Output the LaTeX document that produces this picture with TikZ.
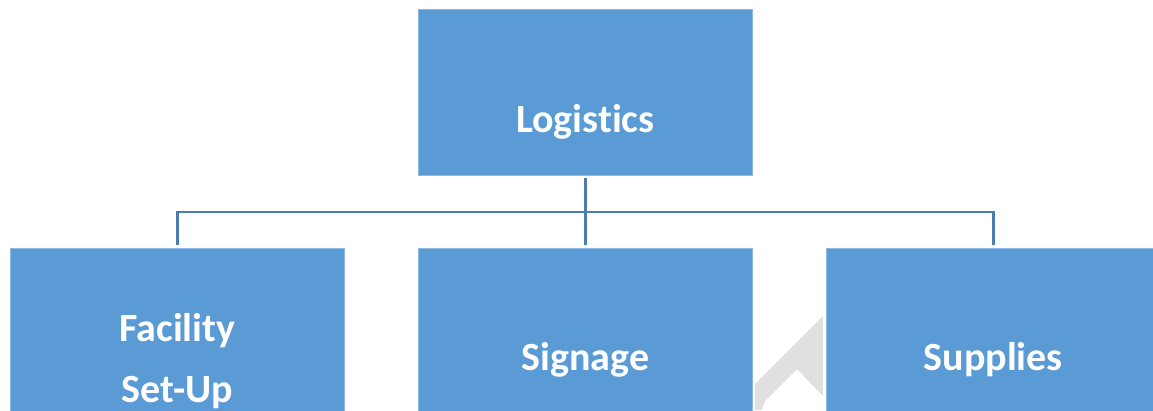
\documentclass[tikz,border=0pt]{standalone}
\usepackage{fontspec}
\setmainfont{Carlito}[Ligatures=CommonOff]
\usetikzlibrary{calc}
\definecolor{boxblue}{HTML}{5B9BD5}
\definecolor{boxedge}{HTML}{8DB8E3}
\definecolor{linkblue}{HTML}{4A7DAE}
\definecolor{markgray}{HTML}{E0E0E0}
\begin{document}
\begin{tikzpicture}[x=1bp,y=-1bp,
  orgbox/.style={fill=boxblue, draw=boxedge, line width=0.6bp, inner sep=0pt,
    minimum width=334bp, minimum height=166bp, anchor=north west},
  orglabel/.style={text=white, font=\fontsize{40bp}{61bp}\selectfont\bfseries,
    anchor=base, align=center, inner sep=0pt},
  link/.style={draw=linkblue, line width=2.6bp, shorten <=2bp, shorten >=3bp}]
  \clip (0,0) rectangle (1153,410);
  \fill[white] (0,0) rectangle (1153,410);
  % faint background mark in the gap
  \fill[markgray] (755,410) -- (755,384) -- (823,316) -- (823,396)
    -- (797,369) -- (770,396) .. controls (764,402) .. (762,410) -- cycle;
  % boxes
  \node[orgbox] (top) at (418,9) {};
  \node[orgbox] (left) at (10,248) {};
  \node[orgbox] (mid) at (418,248) {};
  \node[orgbox] (right) at (826,248) {};
  % labels
  \node[orglabel] (toplabel) at ($(top.north)+(0,123)$) {Logistics};
  \node[orglabel] (leftlabel) at ($(left.north)+(0,154)$) {Facility\\Set-Up};
  \node[orglabel] (midlabel) at ($(mid.north)+(0,122)$) {Signage};
  \node[orglabel] (rightlabel) at ($(right.north)+(0,122)$) {Supplies};
  % connectors
  \coordinate (bus) at ($(top.south)!0.5!(mid.north)$);
  \draw[link] (top.south) -- (mid.north);
  \draw[link, shorten <=3bp, shorten >=0pt] (left.north) |- (bus);
  \draw[link, shorten <=0pt, shorten >=3bp] (bus) -| (right.north);
\end{tikzpicture}
\end{document}
